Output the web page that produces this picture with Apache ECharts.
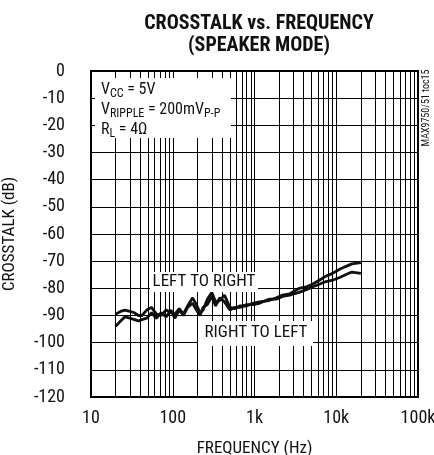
<!DOCTYPE html>
<html><head><meta charset="utf-8">
<script src="https://cdn.jsdelivr.net/npm/echarts@6/dist/echarts.min.js"></script>
<style>html,body{margin:0;padding:0;background:#fff}#c{width:434px;height:455px}</style>
</head><body><div id="c"></div>
<script>
var FONT = '"Roboto Condensed","Liberation Sans Narrow",sans-serif';
var freq = [20,23,26,30,34,38,42,48,55,63,72,83,95,106,120,135,152,175,195,215,235,265,300,335,375,430,500,570,660,800,950,1150,1500,1850,2200,2700,3100,3500,4300,5100,6200,7500,9000,11000,13000,15500,20000];
var leftToRight = [-89.5,-88.5,-88,-88.5,-89,-90,-90,-88,-87,-89.5,-90,-88,-89,-89.5,-87.5,-89.5,-86.5,-83.5,-86,-89,-88,-84,-81.5,-85,-84.5,-82.5,-87,-87.5,-86.5,-86.5,-85.5,-85,-84.5,-83.5,-82.5,-82,-81,-80,-79.5,-78.5,-77,-75.5,-74.5,-73,-72,-71,-70.5];
var rightToLeft = [-94,-92,-90.5,-91,-91.5,-92,-91.5,-91,-89,-91,-89,-90.5,-88,-91,-88,-90,-87,-85.5,-88,-90,-87,-86,-83,-86.5,-83.5,-85,-88,-87,-87,-86,-86,-85.5,-84,-84,-83,-82.5,-82,-81.5,-80.5,-79.5,-78.5,-77.5,-77,-76,-75,-74,-74.5];
var xTickLabels = {10:'10',100:'100',1000:'1k',10000:'10k',100000:'100k'};
var vGrid = [20,30,40,50,60,70,80,90,100,200,300,400,500,600,700,800,900,1000,2000,3000,4000,5000,6000,7000,8000,9000,10000,20000,30000,40000,50000,60000,70000,80000,90000];
var yMin = -120, yMax = 0, yStep = 10;

var chart = echarts.init(document.getElementById('c'), null, {renderer:'canvas'});
chart.setOption({
  animation:false,
  backgroundColor:'#fff',
  title:{
    text:'CROSSTALK vs. FREQUENCY\n(SPEAKER MODE)',
    left:254, top:8, textAlign:'center',
    textStyle:{fontFamily:FONT, fontWeight:'bold', fontSize:20, lineHeight:22, color:'#111'}
  },
  grid:{left:91, top:71, width:327, height:326, outerBoundsMode:'none', containLabel:false, show:true, borderColor:'#000', borderWidth:2, backgroundColor:'transparent'},
  xAxis:{
    type:'log', logBase:10, min:10, max:100000,
    name:'FREQUENCY (Hz)', nameLocation:'middle', nameGap:43, nameMoveOverlap:false,
    nameTextStyle:{fontFamily:FONT, fontSize:17, color:'#111'},
    axisLine:{show:false}, axisTick:{show:false},
    splitLine:{show:false},
    axisLabel:{fontFamily:FONT, fontSize:18, color:'#111', margin:12, formatter:function(v){return xTickLabels[Math.round(v)]||'';}}
  },
  yAxis:{
    type:'value', min:yMin, max:yMax, interval:yStep,
    name:'CROSSTALK (dB)', nameLocation:'middle', nameGap:73, nameMoveOverlap:false,
    nameTextStyle:{fontFamily:FONT, fontSize:17, color:'#111'},
    axisLine:{show:false}, axisTick:{show:false},
    splitLine:{show:true, lineStyle:{color:'#000', width:1}},
    axisLabel:{fontFamily:FONT, fontSize:18, color:'#111', margin:26}
  },
  graphic:[
    {type:'rect', zlevel:1, z:100, shape:{x:95, y:78, width:136, height:60}, style:{fill:'#fff'}},
    {type:'rect', zlevel:1, z:100, shape:{x:150, y:272, width:108, height:20}, style:{fill:'#fff'}},
    {type:'rect', zlevel:1, z:100, shape:{x:198, y:321, width:115, height:25}, style:{fill:'#fff'}},
    {type:'text', zlevel:1, z:101, x:101, y:80, style:{
      text:'{n|V}{s|CC}{n| = 5V}\n{n|V}{s|RIPPLE}{n| = 200mV}{s|P-P}\n{n|R}{s|L}{n| = 4Ω}',
      fill:'#111',
      rich:{
        n:{fontFamily:FONT, fontSize:16, lineHeight:20, verticalAlign:'middle', fill:'#111'},
        s:{fontFamily:FONT, fontSize:12, lineHeight:12, verticalAlign:'bottom', fill:'#111'}
      }
    }},
    {type:'text', zlevel:1, z:101, x:204, y:282, style:{text:'LEFT TO RIGHT', fontFamily:FONT, fontSize:17, fill:'#111', align:'center', verticalAlign:'middle'}},
    {type:'text', zlevel:1, z:101, x:256, y:333, style:{text:'RIGHT TO LEFT', fontFamily:FONT, fontSize:17, fill:'#111', align:'center', verticalAlign:'middle'}},
    {type:'text', zlevel:1, z:101, x:426, y:108, rotation:Math.PI/2, style:{text:'MAX9750/51 toc15', fontFamily:FONT, fontSize:10, fill:'#111', align:'center', verticalAlign:'middle'}}
  ],
  series:[
    {type:'line', z:0, data:[], silent:true,
     markLine:{silent:true, symbol:'none', label:{show:false}, animation:false,
       lineStyle:{color:'#000', width:1, type:'solid'},
       data:vGrid.map(function(v){return {xAxis:v};})}},
    {name:'LEFT TO RIGHT', type:'line', z:3, showSymbol:false, symbol:'none',
     lineStyle:{color:'#111', width:2.8}, data:freq.map(function(f,i){return [f,leftToRight[i]];})},
    {name:'RIGHT TO LEFT', type:'line', z:3, showSymbol:false, symbol:'none',
     lineStyle:{color:'#111', width:2.8}, data:freq.map(function(f,i){return [f,rightToLeft[i]];})}
  ]
});
</script></body></html>
